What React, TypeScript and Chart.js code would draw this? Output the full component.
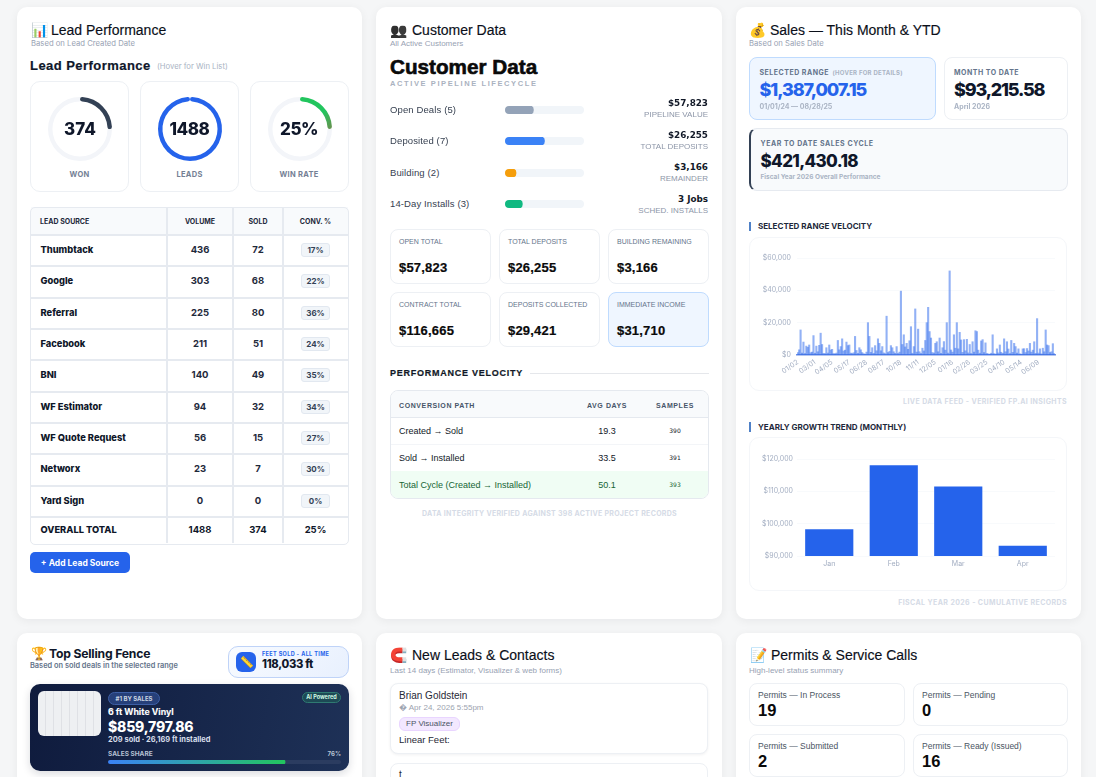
import React, { useEffect, useRef } from 'react';
import Chart from 'chart.js/auto';

// Selected range velocity, one value per day bucket
const dailySales = [
  1500, 3200, 15500, 1200, 8000, 900, 5500, 4800, 6200, 1400,
  1800, 12000, 1100, 5500, 2000, 6000, 13500, 6500, 1000, 800,
  4500, 1200, 6200, 3100, 3500, 900, 700, 1200, 9000, 3200,
  5200, 10000, 2500, 3000, 8000, 5800, 6200, 1200, 900, 1400,
  11500, 2800, 1000, 4500, 3200, 1500, 800, 500, 1800, 20000,
  11500, 1600, 4500, 1000, 5800, 2600, 10000, 7200, 2600, 5200,
  1300, 800, 24000, 1500, 2200, 5800, 4500, 2000, 1000, 5200,
  900, 1800, 39500, 6500, 12500, 5000, 7200, 3500, 8800, 17500,
  1100, 5200, 28500, 1800, 16000, 2000, 900, 4200, 2500, 9000,
  20000, 29500, 14500, 10500, 1500, 1200, 7200, 8200, 2000, 10500,
  1000, 4500, 8300, 3000, 20000, 1200, 52000, 3100, 1800, 12500,
  4200, 20000, 3800, 14000, 9300, 1600, 9500, 2600, 9700, 1300,
  6500, 900, 8200, 1800, 15000, 14500, 3000, 1100, 8700, 9500,
  1500, 7500, 900, 700, 500, 1100, 12500, 800, 600, 3800,
  1300, 6200, 1700, 1000, 10000, 2000, 8200, 3700, 900, 9000,
  1600, 7200, 5200, 1200, 3800, 700, 500, 3800, 3900, 1500,
  4000, 2500, 7200, 1800, 3000, 8200, 1000, 22500, 1200, 3800,
  700, 4200, 2000, 15500, 6200, 5800, 1500, 2000, 7000, 900,
];
const dayTicks = ['01/02', '03/01', '04/05', '05/17', '06/28', '08/17', '10/18', '11/11', '12/05', '01/16', '02/26', '03/25', '04/10', '05/14', '06/09'];
const dayLabels = dailySales.map((_, i) => (i % 12 === 0 ? dayTicks[i / 12] : ''));

// Yearly growth trend
const months = ['Jan', 'Feb', 'Mar', 'Apr'];
const monthlySales = [98300, 118100, 111500, 93200];

// Lead performance table
const leadSources = ['Thumbtack', 'Google', 'Referral', 'Facebook', 'BNI', 'WF Estimator', 'WF Quote Request', 'Networx', 'Yard Sign'];
const leadVolume = [436, 303, 225, 211, 140, 94, 56, 23, 0];
const leadSold = [72, 68, 80, 51, 49, 32, 15, 7, 0];
const leadConv = ['17%', '22%', '36%', '24%', '35%', '34%', '27%', '30%', '0%'];

// Customer data
const pipelineLabels = ['Open Deals (5)', 'Deposited (7)', 'Building (2)', '14-Day Installs (3)'];
const pipelineShare = [36, 50, 14, 22];
const pipelineAmounts = ['$57,823', '$26,255', '$3,166', '3 Jobs'];
const pipelineNotes = ['PIPELINE VALUE', 'TOTAL DEPOSITS', 'REMAINDER', 'SCHED. INSTALLS'];
const pipelineColors = ['#94a3b8', '#3b82f6', '#f59e0b', '#10b981'];
const statLabels = ['OPEN TOTAL', 'TOTAL DEPOSITS', 'BUILDING REMAINING', 'CONTRACT TOTAL', 'DEPOSITS COLLECTED', 'IMMEDIATE INCOME'];
const statValues = ['$57,823', '$26,255', '$3,166', '$116,665', '$29,421', '$31,710'];
const pathLabels = ['Created → Sold', 'Sold → Installed', 'Total Cycle (Created → Installed)'];
const pathDays = ['19.3', '33.5', '50.1'];
const pathSamples = ['390', '391', '393'];

const INTER = 'Inter, sans-serif';
const ARIAL = '"Liberation Sans", Arial, sans-serif';

type TProps = {
  x: number;
  y: number;
  size: number;
  weight?: number;
  color?: string;
  font?: string;
  align?: 'left' | 'center' | 'right';
  spacing?: number;
  stroke?: number;
  filter?: string;
  children: React.ReactNode;
};

// text placed by its vertical centre
const T = ({ x, y, size, weight = 400, color = '#0f172a', font = INTER, align = 'left', spacing = 0, stroke = 0, filter, children }: TProps) => {
  const tx = align === 'center' ? '-50%' : align === 'right' ? '-100%' : '0';
  return (
    <div style={{
      position: 'absolute', left: x, top: y, transform: `translate(${tx}, -50%)`, fontFamily: font, fontSize: size,
      fontWeight: weight, color, letterSpacing: spacing, whiteSpace: 'nowrap', lineHeight: 1, filter,
      WebkitTextStroke: stroke ? `${stroke}px ${color}` : undefined,
    }}>{children}</div>
  );
};

const Box = ({ x, y, w, h, style }: { x: number; y: number; w: number; h: number; style?: React.CSSProperties }) => (
  <div style={{ position: 'absolute', left: x, top: y, width: w, height: h, boxSizing: 'border-box', ...style }} />
);

const Panel = ({ x, y, w, h, style }: { x: number; y: number; w: number; h: number; style?: React.CSSProperties }) => (
  <Box x={x} y={y} w={w} h={h} style={{ background: '#fff', border: '1px solid #edf0f4', borderRadius: 8, ...style }} />
);

const Card = ({ x, y, w, h }: { x: number; y: number; w: number; h: number }) => (
  <Box x={x} y={y} w={w} h={h} style={{ background: '#fff', borderRadius: 10, boxShadow: '0 2px 10px rgba(15,23,42,0.06)' }} />
);

const useChart = (build: (ctx: CanvasRenderingContext2D) => any) => {
  const ref = useRef<HTMLCanvasElement>(null);
  useEffect(() => {
    if (!ref.current) return;
    const ctx = ref.current.getContext('2d');
    if (!ctx) return;
    const chart = new Chart(ctx, build(ctx));
    return () => chart.destroy();
  }, []);
  return ref;
};

const Gauge = ({ x, value, rest, colors }: { x: number; value: number; rest: number; colors: [string, string] }) => {
  const ref = useChart((ctx) => {
    const grad = ctx.createLinearGradient(35, 3, 67, 35);
    grad.addColorStop(0, colors[0]);
    grad.addColorStop(0.6, colors[0]);
    grad.addColorStop(1, colors[1]);
    return {
      type: 'doughnut',
      data: { datasets: [{ data: [value, rest], backgroundColor: [grad, '#f3f5f9'], borderWidth: 0, borderRadius: [3, 0] }] },
      options: {
        animation: false, responsive: false, radius: 32, cutout: '86%',
        plugins: { legend: { display: false }, tooltip: { enabled: false } },
      },
    };
  });
  return (
    <div style={{ position: 'absolute', left: x, top: 94, width: 70, height: 70 }}>
      <canvas ref={ref} width={70} height={70} />
    </div>
  );
};

// horizontal share bar on a 0-100 axis with a track behind it
const ShareBar = ({ x, y, w, h, value, color, track, radius }: { x: number; y: number; w: number; h: number; value: number; color: string | string[]; track: string; radius: number }) => {
  const ref = useChart((ctx) => {
    let fill: any = color;
    if (Array.isArray(color)) {
      fill = ctx.createLinearGradient(0, 0, w * value / 100, 0);
      fill.addColorStop(0, color[0]);
      fill.addColorStop(1, color[1]);
    }
    return {
      type: 'bar',
      data: {
        labels: [''],
        datasets: [
          { data: [value], backgroundColor: fill, borderRadius: radius, borderSkipped: false },
          { data: [100], backgroundColor: track, borderRadius: radius, borderSkipped: false },
        ],
      },
      options: {
        indexAxis: 'y', animation: false, responsive: false,
        datasets: { bar: { grouped: false, barPercentage: 1, categoryPercentage: 1 } },
        layout: { padding: 0 },
        scales: { x: { display: false, min: 0, max: 100 }, y: { display: false } },
        plugins: { legend: { display: false }, tooltip: { enabled: false } },
      },
    };
  });
  return (
    <div style={{ position: 'absolute', left: x, top: y, width: w, height: h, lineHeight: 0, overflow: 'hidden', borderRadius: radius }}>
      <canvas ref={ref} width={w} height={h} />
    </div>
  );
};

const tickFont = { family: 'Inter', size: 7 };
const TICK = '#a3aec2';

const VelocityChart = () => {
  const ref = useChart(() => ({
    type: 'bar',
    data: {
      labels: dayLabels,
      datasets: [{ data: dailySales, backgroundColor: 'rgba(37,99,235,0.5)', borderWidth: 0, barPercentage: 1, categoryPercentage: 1 }],
    },
    options: {
      animation: false, responsive: false,
      layout: { padding: { top: 21, right: 12 } },
      plugins: { legend: { display: false }, tooltip: { enabled: false } },
      scales: {
        y: {
          min: 0, max: 60000,
          afterFit: (s: any) => { s.width = 48; },
          grid: { color: '#f8fafc', drawTicks: false },
          border: { display: false },
          ticks: { stepSize: 20000, color: TICK, font: tickFont, padding: 6, callback: (v: any) => '$' + Number(v).toLocaleString('en-US') },
        },
        x: {
          afterFit: (s: any) => { s.height = 36; },
          grid: { display: false, drawTicks: false },
          border: { color: '#6f90e4', width: 1.5 },
          ticks: { autoSkip: false, maxRotation: 35, minRotation: 35, color: TICK, font: tickFont, padding: 3 },
        },
      },
    },
  }));
  return (
    <div style={{ position: 'absolute', left: 749, top: 237, width: 318, height: 154 }}>
      <canvas ref={ref} width={318} height={154} />
    </div>
  );
};

const GrowthChart = () => {
  const ref = useChart(() => ({
    type: 'bar',
    data: {
      labels: months,
      datasets: [{ data: monthlySales, backgroundColor: '#2563eb', borderWidth: 0, barPercentage: 0.83, categoryPercentage: 0.9 }],
    },
    options: {
      animation: false, responsive: false,
      layout: { padding: { top: 22, right: 12 } },
      plugins: { legend: { display: false }, tooltip: { enabled: false } },
      scales: {
        y: {
          min: 90000, max: 120000,
          afterFit: (s: any) => { s.width = 48; },
          grid: { color: '#f8fafc', drawTicks: false },
          border: { display: false },
          ticks: { stepSize: 10000, color: TICK, font: tickFont, padding: 4, callback: (v: any) => '$' + Number(v).toLocaleString('en-US') },
        },
        x: {
          afterFit: (s: any) => { s.height = 35; },
          grid: { display: false, drawTicks: false },
          border: { display: false },
          ticks: { color: TICK, font: tickFont, padding: 4 },
        },
      },
    },
  }));
  return (
    <div style={{ position: 'absolute', left: 749, top: 437, width: 318, height: 154 }}>
      <canvas ref={ref} width={318} height={154} />
    </div>
  );
};

const CardTitle = ({ x, tx, y, icon, text, filter }: { x: number; tx: number; y: number; icon: string; text: string; filter?: string }) => (
  <>
    <T x={x} y={y} size={14} font={'"Noto Color Emoji", ' + ARIAL} filter={filter}>{icon}</T>
    <T x={tx} y={y} size={14} font={ARIAL} color="#0b0f19" stroke={0.15}>{text}</T>
  </>
);

const rowCenters = [250, 281, 313, 344, 375, 407, 438, 469, 501];
const rowLines = [234, 265, 297, 328, 359, 391, 422, 453, 485, 516];
const colLines = [166, 232, 282];

const LeadPerformance = () => (
  <>
    <CardTitle x={31} tx={51} y={30} icon="📊" text="Lead Performance" />
    <T x={31} y={44} size={7.7} color="#98a2b3">Based on Lead Created Date</T>
    <T x={30} y={65} size={13} weight={700} font={ARIAL} spacing={0.45} stroke={0.2}>Lead Performance</T>
    <T x={157} y={67} size={7.7} color="#a9b3c3">(Hover for Win List)</T>

    <Panel x={30} y={81} w={99} h={111} style={{ borderRadius: 10 }} />
    <Panel x={140} y={81} w={99} h={111} style={{ borderRadius: 10 }} />
    <Panel x={250} y={81} w={99} h={111} style={{ borderRadius: 10 }} />
    <Gauge x={45} value={374} rest={1114} colors={['#334155', '#334155']} />
    <Gauge x={155} value={1488} rest={0} colors={['#2563eb', '#2563eb']} />
    <Gauge x={265} value={25} rest={75} colors={['#22c55e', '#6b8e4e']} />
    <T x={80} y={129} size={17} weight={800} align="center">374</T>
    <T x={189.5} y={129} size={17} weight={800} align="center" spacing={-0.5}>1488</T>
    <T x={299} y={129} size={17} weight={800} align="center" spacing={-0.5}>25%</T>
    <T x={79.5} y={175} size={7.5} weight={700} color="#748094" align="center" spacing={0.3}>WON</T>
    <T x={189.5} y={175} size={7.5} weight={700} color="#748094" align="center" spacing={0.3}>LEADS</T>
    <T x={299} y={175} size={7.5} weight={700} color="#748094" align="center" spacing={0.3}>WIN RATE</T>

    <Box x={31} y={207} w={317} h={27} style={{ background: '#f8fafc' }} />
    <Box x={30} y={206.5} w={319} h={338} style={{ border: '1.5px solid #e6eaf0', borderRadius: 5 }} />
    {rowLines.map((y) => <Box key={y} x={31} y={y} w={317} h={1.5} style={{ background: '#e6eaf0' }} />)}
    {colLines.map((x) => <Box key={x} x={x} y={207} w={1.5} h={336} style={{ background: '#e6eaf0' }} />)}
    <T x={40} y={220.5} size={7} weight={700} color="#1e293b">LEAD SOURCE</T>
    <T x={200} y={220.5} size={7} weight={700} color="#1e293b" align="center">VOLUME</T>
    <T x={258} y={220.5} size={7} weight={700} color="#1e293b" align="center">SOLD</T>
    <T x={315.5} y={220.5} size={7} weight={700} color="#1e293b" align="center">CONV. %</T>
    {leadSources.map((name, i) => (
      <React.Fragment key={name}>
        <T x={40.5} y={rowCenters[i]} size={9.3} weight={800}>{name}</T>
        <T x={200} y={rowCenters[i]} size={9.5} weight={700} color="#1e293b" align="center">{leadVolume[i]}</T>
        <T x={258} y={rowCenters[i]} size={9.5} weight={700} color="#1e293b" align="center">{leadSold[i]}</T>
        <Box x={301} y={rowCenters[i] - 7} w={29} h={14} style={{ background: '#f1f5f9', border: '1px solid #e2e8f0', borderRadius: 3 }} />
        <T x={315.5} y={rowCenters[i]} size={8} weight={700} color="#334155" align="center">{leadConv[i]}</T>
      </React.Fragment>
    ))}
    <T x={40.5} y={530} size={9.3} weight={800}>OVERALL TOTAL</T>
    <T x={200} y={530} size={9.5} weight={700} align="center">1488</T>
    <T x={258} y={530} size={9.5} weight={700} align="center">374</T>
    <T x={315.5} y={530} size={9.5} weight={700} align="center">25%</T>

    <Box x={30} y={552} w={100} h={21} style={{ background: '#2563eb', borderRadius: 5 }} />
    <T x={80} y={562.5} size={8.5} weight={700} color="#fff" align="center">+ Add Lead Source</T>
  </>
);

const pipeRows = [110, 141, 172.5, 204];
const pipeAmountY = [103, 134.5, 167, 198.5];
const statX = [390, 499, 608];
const statY = [229, 292];
const pathY = [431, 457.5, 484.5];

const CustomerData = () => (
  <>
    <CardTitle x={390} tx={412} y={30} icon="👥" text="Customer Data" filter="grayscale(1) brightness(0.45)" />
    <T x={390} y={44} size={8} font={ARIAL} color="#98a2b3">All Active Customers</T>
    <T x={390} y={67} size={20.7} weight={700} font={ARIAL} color="#0a0a0a" stroke={0.6}>Customer Data</T>
    <T x={390} y={84} size={7.5} weight={700} font={ARIAL} color="#aab2c0" spacing={1.6}>ACTIVE PIPELINE LIFECYCLE</T>
    {pipelineLabels.map((label, i) => (
      <React.Fragment key={label}>
        <T x={390} y={pipeRows[i]} size={9.5} color="#374151" font={ARIAL} spacing={0.12}>{label}</T>
        <ShareBar x={505} y={pipeRows[i] - 4} w={79} h={8} value={pipelineShare[i]} color={pipelineColors[i]} track="#f1f5f9" radius={4} />
        <T x={708} y={pipeAmountY[i]} size={8.8} weight={700} font='"DejaVu Sans", sans-serif' color="#111827" align="right">{pipelineAmounts[i]}</T>
        <T x={708} y={pipeAmountY[i] + 12} size={8} font={ARIAL} color="#8d96a8" align="right">{pipelineNotes[i]}</T>
      </React.Fragment>
    ))}
    {statLabels.map((label, i) => {
      const x = statX[i % 3];
      const y = statY[Math.floor(i / 3)];
      const hot = i === 5;
      return (
        <React.Fragment key={label}>
          <Panel x={x} y={y} w={101} h={55} style={hot ? { background: '#eff6ff', borderColor: '#bfdbfe' } : undefined} />
          <T x={x + 9} y={y + 12} size={7} font={ARIAL} color="#64748b">{label}</T>
          <T x={x + 9} y={y + 38} size={13} weight={700} font={ARIAL} color="#0a0a0a" spacing={0.2} stroke={0.2}>{statValues[i]}</T>
        </React.Fragment>
      );
    })}
    <T x={390} y={373} size={9} weight={700} font={ARIAL} spacing={0.75} stroke={0.2} color="#111827">PERFORMANCE VELOCITY</T>
    <Box x={530} y={373} w={179} h={1} style={{ background: '#e5e7eb' }} />

    <Panel x={390} y={390} w={319} h={109} style={{ overflow: 'hidden', borderColor: '#e5e9ef' }} />
    <Box x={391} y={391} w={317} h={27} style={{ background: '#f8fafc', borderBottom: '1px solid #e5e9ef', borderRadius: '7px 7px 0 0' }} />
    <Box x={391} y={444} w={317} h={1} style={{ background: '#f3f5f8' }} />
    <Box x={391} y={471} w={317} h={27} style={{ background: '#f0fdf4', borderRadius: '0 0 7px 7px' }} />
    <T x={399} y={404.5} size={7} weight={700} font={ARIAL} color="#475569" spacing={0.6}>CONVERSION PATH</T>
    <T x={607} y={404.5} size={7} weight={700} font={ARIAL} color="#475569" align="center" spacing={0.6}>AVG DAYS</T>
    <T x={675} y={404.5} size={7} weight={700} font={ARIAL} color="#475569" align="center" spacing={0.6}>SAMPLES</T>
    {pathLabels.map((label, i) => {
      const color = i === 2 ? '#166534' : '#111827';
      return (
        <React.Fragment key={label}>
          <T x={399} y={pathY[i]} size={9} font={ARIAL} color={color}>{label}</T>
          <T x={607} y={pathY[i]} size={9} font={ARIAL} color={color} align="center">{pathDays[i]}</T>
          <T x={675} y={pathY[i]} size={6} font='"DejaVu Sans", sans-serif' color={color} align="center">{pathSamples[i]}</T>
        </React.Fragment>
      );
    })}
    <T x={549.5} y={513} size={7} weight={700} font={INTER} color="#d5dbe6" align="center" spacing={0.3}>DATA INTEGRITY VERIFIED AGAINST 398 ACTIVE PROJECT RECORDS</T>
  </>
);

const SalesCard = () => (
  <>
    <CardTitle x={749} tx={770} y={30} icon="💰" text="Sales — This Month & YTD" />
    <T x={749} y={44} size={7.7} color="#98a2b3">Based on Sales Date</T>

    <Box x={749} y={57} w={187} h={63} style={{ background: '#eff6ff', border: '1px solid #bfdbfe', borderRadius: 8 }} />
    <T x={759.5} y={72} size={7} weight={700} color="#64748b" spacing={0.5}>SELECTED RANGE</T>
    <T x={832.5} y={72.5} size={6} weight={700} color="#aab4c4" spacing={0.25}>(HOVER FOR DETAILS)</T>
    <T x={759.5} y={89.5} size={18} weight={800} color="#2563eb" spacing={-1.1}>$1,387,007.15</T>
    <T x={759.5} y={105.5} size={7} weight={700} color="#aab4c4">01/01/24 — 08/28/25</T>

    <Panel x={944} y={57} w={124} h={63} />
    <T x={954} y={72} size={7} weight={700} color="#64748b" spacing={0.5}>MONTH TO DATE</T>
    <T x={954} y={89.5} size={18} weight={800} color="#0f172a" spacing={-1.2}>$93,215.58</T>
    <T x={954} y={105.5} size={7} weight={700} color="#aab4c4">April 2026</T>

    <Box x={749} y={128} w={319} h={63} style={{ background: '#f8fafc', border: '1px solid #e6eaf0', borderLeft: '2px solid #334155', borderRadius: 8 }} />
    <T x={760.5} y={143} size={7} weight={700} color="#64748b" spacing={0.55}>YEAR TO DATE SALES CYCLE</T>
    <T x={760.5} y={160.5} size={17} weight={800} color="#0f172a" spacing={-0.65}>$421,430.18</T>
    <T x={760.5} y={176.5} size={6.5} weight={700} color="#aab4c4">Fiscal Year 2026 Overall Performance</T>

    <Box x={749} y={222} w={2} h={9} style={{ background: '#4f81c7' }} />
    <T x={758} y={226} size={8} weight={700} color="#1e293b">SELECTED RANGE VELOCITY</T>
    <Panel x={749} y={237} w={318} h={154} style={{ borderColor: '#f4f6f9', borderRadius: 10 }} />
    <VelocityChart />
    <T x={1067} y={401} size={7} weight={700} color="#d5dbe6" align="right" spacing={0.4}>LIVE DATA FEED - VERIFIED FP.AI INSIGHTS</T>

    <Box x={749} y={422} w={2} h={10} style={{ background: '#4f81c7' }} />
    <T x={758} y={427} size={8} weight={700} color="#1e293b">YEARLY GROWTH TREND (MONTHLY)</T>
    <Panel x={749} y={437} w={318} h={154} style={{ borderColor: '#f4f6f9', borderRadius: 10 }} />
    <GrowthChart />
    <T x={1067} y={601.5} size={7} weight={700} color="#d5dbe6" align="right" spacing={0.4}>FISCAL YEAR 2026 - CUMULATIVE RECORDS</T>
  </>
);

const TopFence = () => (
  <>
    <T x={31} y={653} size={13} font={'"Noto Color Emoji", ' + ARIAL}>🏆</T>
    <T x={49} y={654} size={12.2} weight={700} spacing={-0.2}>Top Selling Fence</T>
    <T x={30} y={665.5} size={7.4} weight={600} color="#64748b">Based on sold deals in the selected range</T>

    <Box x={228} y={646} w={121} h={32} style={{ background: 'linear-gradient(135deg,#f8fbff,#e8f0fe)', border: '1px solid #bfd3f8', borderRadius: 10 }} />
    <Box x={236} y={652} w={20} h={20} style={{ background: '#2563eb', borderRadius: 6 }} />
    <T x={240} y={662} size={11} font={'"Noto Color Emoji", ' + ARIAL}>📏</T>
    <T x={262} y={655} size={5.5} weight={700} color="#2563eb" spacing={0.35}>FEET SOLD - ALL TIME</T>
    <T x={262} y={664.5} size={11.2} weight={800} spacing={-0.3}>118,033 ft</T>

    <Box x={30} y={684} w={319} h={87} style={{ background: 'linear-gradient(100deg,#0f1b3d,#1e3157)', borderRadius: 10, boxShadow: '0 3px 8px rgba(15,23,42,0.15)' }} />
    <Box x={38} y={691} w={63} h={45} style={{ borderRadius: 6, background: 'repeating-linear-gradient(90deg,#eef0f2 0 7px,#dfe1e5 7px 8px)' }} />
    <Box x={108} y={692} w={52} h={13} style={{ background: '#26407a', border: '1px solid #3d5fa6', borderRadius: 7 }} />
    <T x={134} y={698.5} size={6} weight={700} color="#cbd5e1" align="center">#1 BY SALES</T>
    <Box x={302} y={692} w={39} h={11} style={{ background: '#1d4a55', border: '1px solid #2f7a72', borderRadius: 6 }} />
    <T x={321.5} y={697.5} size={5.5} weight={700} color="#d1fae5" align="center">AI Powered</T>
    <T x={108} y={712} size={8.8} weight={700} color="#fff" stroke={0.1}>6 ft White Vinyl</T>
    <T x={108} y={727} size={14} weight={800} color="#fff" spacing={-0.2}>$859,797.86</T>
    <T x={108} y={740} size={7.5} weight={700} color="#d7deea">209 sold  ·  26,169 ft installed</T>
    <T x={108} y={754} size={6.5} weight={700} color="#b7c2d4">SALES SHARE</T>
    <T x={341} y={754} size={6} weight={700} color="#b7c2d4" align="right">76%</T>
    <ShareBar x={108} y={760} w={233} h={4} value={76} color={['#3b82f6', '#22c55e']} track="#2b3c60" radius={2} />
  </>
);

const NewLeads = () => (
  <>
    <CardTitle x={390} tx={412} y={655} icon="🧲" text="New Leads & Contacts" />
    <T x={390} y={671} size={8} font={ARIAL} color="#98a2b3">Last 14 days (Estimator, Visualizer & web forms)</T>
    <Panel x={390} y={683} w={318} h={71} style={{ boxShadow: '0 1px 3px rgba(15,23,42,0.06)' }} />
    <T x={399} y={696} size={10} font={ARIAL} color="#1f2937">Brian Goldstein</T>
    <T x={399} y={708} size={8} font={ARIAL} color="#9ca3af">� Apr 24, 2026 5:55pm</T>
    <Box x={399} y={717} w={61} h={14} style={{ background: '#f3e8ff', border: '1px solid #e9d5ff', borderRadius: 6 }} />
    <T x={429.5} y={724} size={8} font={ARIAL} color="#4b5563" align="center">FP Visualizer</T>
    <T x={399} y={740} size={9.5} font={ARIAL} color="#1f2937">Linear Feet:</T>
    <Panel x={390} y={763} w={318} h={30} />
    <T x={399} y={775} size={10} font={ARIAL} color="#1f2937">t</T>
  </>
);

const permitLabels = ['Permits — In Process', 'Permits — Pending', 'Permits — Submitted', 'Permits — Ready (Issued)'];
const permitValues = ['19', '0', '2', '16'];
const permitX = [749, 913];
const permitY = [683, 734];

const Permits = () => (
  <>
    <CardTitle x={750} tx={771} y={655} icon="📝" text="Permits & Service Calls" />
    <T x={749} y={671} size={8} font={ARIAL} color="#98a2b3">High-level status summary</T>
    {permitLabels.map((label, i) => {
      const x = permitX[i % 2];
      const y = permitY[Math.floor(i / 2)];
      return (
        <React.Fragment key={label}>
          <Panel x={x} y={y} w={i % 2 ? 155 : 156} h={43} />
          <T x={x + 9} y={y + 12} size={8.5} font={ARIAL} color="#4b5563">{label}</T>
          <T x={x + 9} y={y + 27} size={16.5} weight={700} font={ARIAL} color="#0a0a0a">{permitValues[i]}</T>
        </React.Fragment>
      );
    })}
  </>
);

export default function App() {
  useEffect(() => {
    document.body.style.margin = '0';
    document.body.style.overflow = 'hidden';
  }, []);
  return (
    <div style={{ position: 'relative', width: 1096, height: 777, overflow: 'hidden', background: '#f5f6f7' }}>
      <Card x={17} y={7} w={345} h={612} />
      <Card x={376} y={7} w={346} h={612} />
      <Card x={736} y={7} w={345} h={612} />
      <Card x={17} y={633} w={345} h={160} />
      <Card x={376} y={633} w={346} h={160} />
      <Card x={736} y={633} w={345} h={160} />
      <LeadPerformance />
      <CustomerData />
      <SalesCard />
      <TopFence />
      <NewLeads />
      <Permits />
    </div>
  );
}
